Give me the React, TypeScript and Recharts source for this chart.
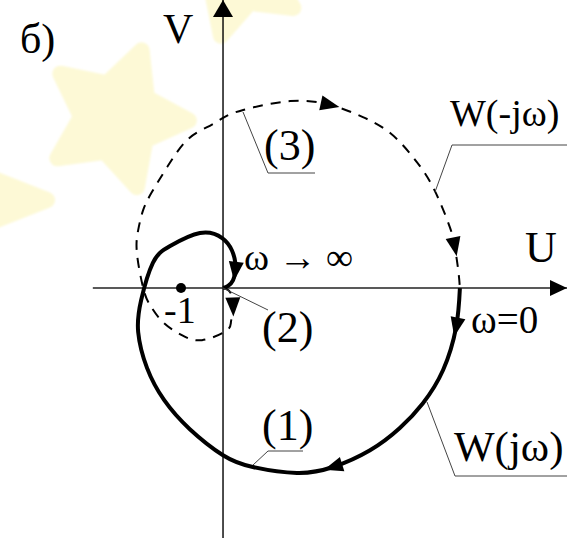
import { LineChart, Line, XAxis, YAxis, ReferenceLine, ReferenceDot } from 'recharts';

// W(jω), ω from 0 to ∞ (solid, curve 1)
const wPositive = [
  { u: 5.64, v: 0 }, { u: 5.55, v: -0.93 }, { u: 5.24, v: -1.95 }, { u: 4.76, v: -2.74 },
  { u: 4.21, v: -3.33 }, { u: 3.5, v: -3.86 }, { u: 2.62, v: -4.26 }, { u: 1.76, v: -4.4 },
  { u: 0.71, v: -4.26 }, { u: 0, v: -3.98 }, { u: -0.79, v: -3.36 }, { u: -1.4, v: -2.67 },
  { u: -1.81, v: -1.9 }, { u: -2.02, v: -1.05 }, { u: -1.95, v: -0.29 }, { u: -1.67, v: 0.6 },
  { u: -1.26, v: 1.0 }, { u: -0.55, v: 1.31 }, { u: -0.02, v: 1.19 }, { u: 0.21, v: 0.9 },
  { u: 0.29, v: 0.62 }, { u: 0.29, v: 0.4 }, { u: 0.24, v: 0.19 }, { u: 0.12, v: 0.05 },
  { u: 0, v: 0 },
];
const wPositiveArrows = [1, 6, 21];

// W(-jω), the mirror branch (dashed, curve 3)
const wNegative = [
  { u: 0, v: 0 }, { u: 0.17, v: -0.1 }, { u: 0.24, v: -0.45 }, { u: 0.19, v: -0.8 },
  { u: 0.07, v: -1.02 }, { u: -0.5, v: -1.24 }, { u: -0.98, v: -1.12 }, { u: -1.43, v: -0.81 },
  { u: -1.74, v: -0.4 }, { u: -1.9, v: 0 }, { u: -2.05, v: 0.83 }, { u: -2.02, v: 1.38 },
  { u: -1.9, v: 1.86 }, { u: -1.69, v: 2.29 }, { u: -1.33, v: 2.88 }, { u: -0.86, v: 3.52 },
  { u: -0.38, v: 3.83 }, { u: 0, v: 4.05 }, { u: 0.48, v: 4.24 }, { u: 1.6, v: 4.45 },
  { u: 2.55, v: 4.36 }, { u: 3.33, v: 4.07 }, { u: 3.98, v: 3.69 }, { u: 4.52, v: 3.12 },
  { u: 5.0, v: 2.4 }, { u: 5.4, v: 1.45 }, { u: 5.52, v: 0.98 }, { u: 5.6, v: 0.43 },
  { u: 5.64, v: 0 },
];
const wNegativeArrows = [2, 20, 26];

const criticalPoint = { u: -1, v: 0 };

const W = 567;
const H = 538;
const X_DOMAIN: [number, number] = [-5.31, 8.19];
const Y_DOMAIN: [number, number] = [-5.95, 6.857];
const U_AXIS_START = -3.1;

const serif = 'Liberation Serif';

// filled arrowhead drawn on selected points, oriented along the curve
const arrowDot = (pts: { u: number; v: number }[], marks: number[]) => (props: any) => {
  const { cx, cy, index } = props;
  if (!marks.includes(index) || cx == null || cy == null) return <g key={`d${index}`} />;
  const a = pts[index - 1];
  const b = pts[index + 1];
  const dx = b.u - a.u;
  const dy = -(b.v - a.v);
  const len = Math.hypot(dx, dy) || 1;
  const ux = dx / len;
  const uy = dy / len;
  const L = 19;
  const hw = 7.5;
  const tx = cx + ux * L * 0.5;
  const ty = cy + uy * L * 0.5;
  const bx = cx - ux * L * 0.5;
  const by = cy - uy * L * 0.5;
  const tri = `${tx},${ty} ${bx - uy * hw},${by + ux * hw} ${bx + uy * hw},${by - ux * hw}`;
  return <polygon key={`d${index}`} points={tri} fill="#000" />;
};

function starPoints(cx: number, cy: number, R: number, r: number, rotDeg: number) {
  const out: string[] = [];
  for (let i = 0; i < 10; i++) {
    const ang = ((rotDeg + i * 36) * Math.PI) / 180;
    const rad = i % 2 === 0 ? R : r;
    out.push(`${cx + rad * Math.cos(ang)},${cy + rad * Math.sin(ang)}`);
  }
  return out.join(' ');
}

// pale background stars
const stars = [
  { cx: 117, cy: 118, R: 72, r: 36, rot: -70 },
  { cx: 238, cy: -28, R: 66, r: 33, rot: 105 },
  { cx: -45, cy: 200, R: 92, r: 40, rot: 0 },
];

const labels = [
  { text: 'б)', x: 20, y: 53, size: 42 },
  { text: 'V', x: 163, y: 43, size: 42 },
  { text: 'U', x: 525, y: 262, size: 44 },
  { text: 'ω → ∞', x: 244, y: 270, size: 38 },
  { text: '-1', x: 164, y: 323, size: 38 },
  { text: '(2)', x: 262, y: 342, size: 44 },
  { text: 'ω=0', x: 471, y: 333, size: 39 },
  { text: '(3)', x: 264, y: 160, size: 44 },
  { text: '(1)', x: 262, y: 440, size: 44 },
  { text: 'W(-jω)', x: 450, y: 126, size: 38 },
  { text: 'W(jω)', x: 454, y: 461, size: 43 },
];

const leaders = [
  '243,112 268,173 315,173',
  '435,192 452,145 567,145',
  '223,288 268,310',
  '253,465 268,451 303,451',
  '427,402 455,476 567,476',
];

export default function App() {
  return (
    <div style={{ position: 'absolute', left: 0, top: 0, width: W, height: H, background: '#fff' }}>
      <svg width={W} height={H} style={{ position: 'absolute', left: 0, top: 0 }}>
        <defs>
          <filter id="soft">
            <feGaussianBlur stdDeviation="1.2" />
          </filter>
        </defs>
        <g filter="url(#soft)">
          {stars.map((s, i) => (
            <polygon
              key={i}
              points={starPoints(s.cx, s.cy, s.R, s.r, s.rot)}
              fill="#fdf9d6"
              stroke="#fdf9d6"
              strokeWidth={16}
              strokeLinejoin="round"
            />
          ))}
        </g>
      </svg>

      <div style={{ position: 'absolute', left: 0, top: 0 }}>
        <LineChart width={W} height={H} margin={{ top: 0, right: 0, bottom: 0, left: 0 }}>
          <XAxis type="number" dataKey="u" domain={X_DOMAIN} hide allowDataOverflow />
          <YAxis type="number" dataKey="v" domain={Y_DOMAIN} hide allowDataOverflow />
          <ReferenceLine x={0} stroke="#000" strokeWidth={1.4} />
          <ReferenceLine
            segment={[{ x: U_AXIS_START, y: 0 }, { x: X_DOMAIN[1], y: 0 }]}
            stroke="#222"
            strokeWidth={1.4}
          />
          <Line
            data={wNegative}
            dataKey="v"
            type="natural"
            stroke="#000"
            strokeWidth={2}
            strokeDasharray="10 8"
            dot={arrowDot(wNegative, wNegativeArrows)}
            activeDot={false}
            isAnimationActive={false}
          />
          <Line
            data={wPositive}
            dataKey="v"
            type="natural"
            stroke="#000"
            strokeWidth={4}
            dot={arrowDot(wPositive, wPositiveArrows)}
            activeDot={false}
            isAnimationActive={false}
          />
          <ReferenceDot x={criticalPoint.u} y={criticalPoint.v} r={5} fill="#000" stroke="none" />
        </LineChart>
      </div>

      <svg width={W} height={H} style={{ position: 'absolute', left: 0, top: 0, pointerEvents: 'none' }}>
        {/* axis arrowheads */}
        <polygon points="223,0 213,17 233,17" fill="#000" />
        <polygon points="567,288 550,280 550,296" fill="#000" />
        {leaders.map((p, i) => (
          <polyline key={i} points={p} fill="none" stroke="#444" strokeWidth={1} />
        ))}
        {labels.map((l, i) => (
          <text key={i} x={l.x} y={l.y} style={{ fontFamily: serif, fontSize: l.size }} fill="#000">
            {l.text}
          </text>
        ))}
      </svg>
    </div>
  );
}
